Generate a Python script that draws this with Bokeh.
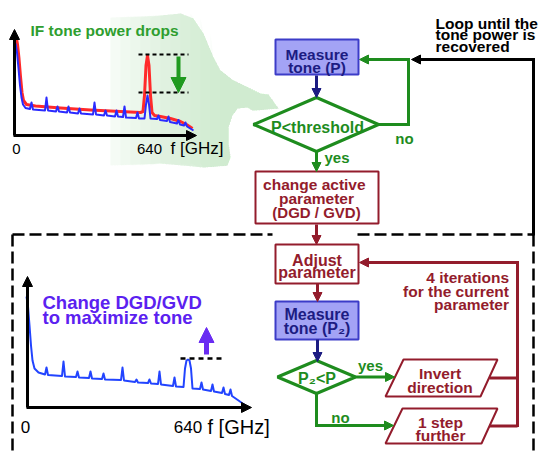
from bokeh.plotting import figure
from bokeh.models import Range1d, Arrow, NormalHead
from bokeh.core.properties import value
from bokeh.embed import file_html
from bokeh.resources import INLINE

# ---------------- data (spectra, in picture units) ----------------
TOP_RED_X = [16, 17, 18.5, 20, 21.5, 23, 26, 35, 60, 90, 120, 140, 142.5, 144, 145.5, 147, 148.5,
             150, 151.5, 154, 160, 170, 180, 186, 192]
TOP_RED_Y = [38, 44, 58, 76, 92, 100, 104, 105.5, 107.5, 109.5, 111, 112, 111, 95, 65, 55, 65,
             95, 112, 115, 116, 118, 121, 124, 128]

TOP_BLUE_X = [15, 16.5, 18, 19.5, 21, 22.5, 25,
              29.5, 31, 32.5, 44.5, 46, 47.5, 55.5, 57, 58.5, 66.5, 68, 69.5, 77.5, 79, 80.5,
              92.5, 94, 95.5, 103.5, 105, 106.5, 114.5, 116, 117.5, 122.5, 124, 125.5,
              135.5, 137, 138.5, 144, 145.5, 147, 148.5, 150,
              156.5, 158, 159.5, 166.5, 168, 169.5, 176.5, 178, 179.5, 183.5, 185, 186.5, 193]
TOP_BLUE_Y = [43, 52, 68, 85, 97, 104, 107.5,
              108.5, 102, 109, 110, 97, 110, 111, 106, 111, 112, 106, 112, 113, 108, 113,
              114, 102, 114, 115, 110, 115, 116, 110, 116, 116.5, 106, 117,
              117.5, 112, 118, 118, 104, 95, 104, 118,
              118.5, 115, 119.5, 120.5, 116, 121.5, 123, 119.5, 124, 125, 122, 126, 130]

BOT_BLUE_X = [26, 27.5, 29, 30.5, 32, 34, 38,
              44.5, 46, 47.5, 61.5, 63, 64.5, 75.5, 77, 78.5, 88.5, 90, 91.5, 101.5, 103, 104.5,
              120.5, 122, 123.5, 134.5, 136, 137.5, 147.5, 149, 150.5, 157.5, 159, 160.5,
              172.5, 174, 175.5, 183, 184.5, 186, 187.5, 189, 190.5, 192,
              199.5, 201, 202.5, 210.5, 212, 213.5, 221.5, 223, 224.5, 228.5, 230, 231.5, 238, 245]
BOT_BLUE_Y = [296, 306, 325, 345, 360, 368, 372,
              374, 367, 374.5, 375.5, 361, 376, 376.5, 371, 377, 377.5, 371, 378, 378.5, 373, 379,
              379.5, 367, 380, 381.5, 379, 382, 382.5, 379, 383, 383.5, 371, 384,
              385.5, 377, 386, 386.5, 368, 360, 359, 360, 368, 388,
              388.5, 382, 389, 390.5, 384, 391, 392.5, 387, 393.5, 394.5, 389, 395.5, 400, 405]

# ---------------- texts ----------------
LOOP_TEXT = ["Loop until the", "tone power is", "recovered"]
BOX1_TEXT = ["Measure", "tone (P)"]
DIAM1_TEXT = "P<threshold"
BOX2_TEXT = ["change  active", "parameter", "(DGD / GVD)"]
BOX3_TEXT = ["Adjust", "parameter"]
BOX4_TEXT = ["Measure", "tone (P\u2082)"]
DIAM2_TEXT = "P\u2082<P"
PAR1_TEXT = ["Invert", "direction"]
PAR2_TEXT = ["1 step", "further"]
ITER_TEXT = ["4 iterations", "for the current", "parameter"]
TOP_TITLE = "IF tone power drops"
BOT_TITLE = ["Change DGD/GVD", "to maximize tone"]
TICK_LABELS = ["0", "640"]
AXIS_LABEL = "f [GHz]"

# ---------------- colours ----------------
GREEN = "#1e8c1e"
LGREEN = "#2f9e2f"
DRED = "#931c2c"
BFILL = "#a3a3f5"
BLINE = "#3c3cc8"
NAVY = "#1c1c82"
PURPLE = "#5b21f0"
PURPLE2 = "#6a2cf2"
FONT = value("Liberation Sans")
DY = -3.5  # baseline correction for the renderer

p = figure(width=540, height=454, x_range=Range1d(0, 540), y_range=Range1d(454, 0),
           output_backend="svg", toolbar_location=None, min_border=0,
           x_axis_location=None, y_axis_location=None)
p.grid.visible = False
p.outline_line_color = None
p.background_fill_color = "white"
p.border_fill_color = "white"


def txt(x, y, s, color, size, bold=True, align="center"):
    p.text(x=[x], y=[y + DY], text=[s], text_color=color, text_font=FONT,
           text_font_size=f"{size}px", text_font_style="bold" if bold else "normal",
           text_align=align, text_baseline="alphabetic")


def arrow(x0, y0, x1, y1, color, width=3, size=9):
    p.add_layout(Arrow(end=NormalHead(size=size, fill_color=color, line_color=color, line_width=1),
                       x_start=x0, y_start=y0, x_end=x1, y_end=y1,
                       line_color=color, line_width=width))


# ---------------- green shaded arrow (gradient faked with thin layers) ----------------
blob_x = [110, 160, 180, 193, 203, 213, 220, 233, 250, 260, 268, 278, 252, 247, 237, 232, 228, 228, 230, 227, 203, 160, 110]
blob_y = [17, 15, 13, 18, 33, 57, 70, 80, 88, 93, 94, 108, 110, 107, 108, 115, 127, 143, 157, 165, 167, 163, 165]
for left in range(100, 230, 10):
    p.patch([max(v, left) for v in blob_x], blob_y, fill_color="#b5ddb5", fill_alpha=0.07, line_color=None)

# ---------------- top inset ----------------
p.line(TOP_RED_X, TOP_RED_Y, line_color="#ff2a2a", line_width=3, line_join="round")
p.line(TOP_BLUE_X, TOP_BLUE_Y, line_color="#2a2aff", line_width=2, line_join="round")
arrow(14, 135, 14, 29, "black", width=3, size=10)
arrow(13, 135, 196, 135, "black", width=3, size=10)
p.multi_line([[138, 188], [138, 188]], [[54, 54], [92, 92]], line_color="black", line_width=2, line_dash="4 3")
arrow(178, 56, 178, 92, "#1f9a1f", width=4, size=15)
txt(30, 33.5, TOP_TITLE, LGREEN, 15.5, align="left")
txt(16, 151.5, TICK_LABELS[0], "black", 15, bold=False)
txt(149, 151.5, TICK_LABELS[1], "black", 15, bold=False)
txt(170, 151.5, AXIS_LABEL, "black", 17, bold=False, align="left")

# ---------------- top flowchart ----------------
p.quad(left=275, right=358, top=39, bottom=74, fill_color=BFILL, line_color=BLINE, line_width=2)
txt(316.5, 57.5, BOX1_TEXT[0], NAVY, 15.5)
txt(316.5, 70.5, BOX1_TEXT[1], NAVY, 15.5)
arrow(316, 75, 316, 97, NAVY, width=3, size=9)
p.patch([253, 316, 378, 316], [124, 97, 124, 151], fill_color="white", line_color=GREEN, line_width=3)
txt(317, 130, DIAM1_TEXT, GREEN, 16)
p.line([378, 408, 408], [124, 124, 59], line_color=GREEN, line_width=3, line_join="miter")
arrow(409.5, 59, 359, 59, GREEN, width=3, size=9)
txt(404, 141.5, "no", GREEN, 15)
arrow(316, 151, 316, 171, GREEN, width=3, size=9)
txt(324, 160.5, "yes", GREEN, 15, align="left")
p.quad(left=255, right=378, top=171, bottom=223, fill_color="white", line_color=DRED, line_width=2)
txt(316, 187.5, BOX2_TEXT[0], DRED, 15.5)
txt(316, 201, BOX2_TEXT[1], DRED, 15.5)
txt(316, 215, BOX2_TEXT[2], DRED, 15)
arrow(316, 224, 316, 244, DRED, width=3, size=9)

# loop line
p.line([533, 533], [235, 59], line_color="black", line_width=3)
arrow(534.5, 59, 411, 59, "black", width=3, size=9)
for i, s in enumerate(LOOP_TEXT):
    txt(435, [26, 37.7, 49.3][i], s, "black", 15.5, align="left")

# dashed box
p.multi_line([[12, 272], [357, 533], [12, 12], [533, 533]],
             [[234, 234], [234, 234], [234, 460], [234, 460]],
             line_color="black", line_width=2.5, line_dash="12 5")

# ---------------- bottom flowchart ----------------
p.quad(left=275, right=358, top=244, bottom=283, fill_color="white", line_color=DRED, line_width=2)
txt(316.5, 263.3, BOX3_TEXT[0], DRED, 16)
txt(316.5, 275.5, BOX3_TEXT[1], DRED, 16)
arrow(317, 283, 317, 301, DRED, width=3, size=9)
p.quad(left=275, right=358, top=301, bottom=339, fill_color=BFILL, line_color=BLINE, line_width=2)
txt(316.5, 317.3, BOX4_TEXT[0], NAVY, 16)
txt(316.5, 331.7, BOX4_TEXT[1], NAVY, 16)
arrow(317, 339, 317, 361, NAVY, width=3, size=9)
p.patch([277, 316, 355, 316], [376.5, 360, 376.5, 393], fill_color="white", line_color=GREEN, line_width=3)
txt(316.5, 381, DIAM2_TEXT, GREEN, 16)
arrow(355, 376.5, 394, 376.5, GREEN, width=3, size=9)
txt(370, 368, "yes", GREEN, 15)
p.line([316, 316, 380], [393, 425, 425], line_color=GREEN, line_width=3, line_join="miter")
arrow(378, 425, 393, 425, GREEN, width=3, size=9)
txt(340, 420, "no", GREEN, 15)

p.patch([403, 497, 480, 385], [359, 359, 396, 396], fill_color="white", line_color=DRED, line_width=2)
txt(439.5, 376.7, PAR1_TEXT[0], DRED, 15.5)
txt(439.5, 390.7, PAR1_TEXT[1], DRED, 15.5)
p.patch([402, 497, 481, 385], [408, 408, 443, 443], fill_color="white", line_color=DRED, line_width=2)
txt(440, 425, PAR2_TEXT[0], DRED, 15.5)
txt(440, 438.3, PAR2_TEXT[1], DRED, 15.5)

p.multi_line([[489, 517], [489, 517]], [[377.5, 377.5], [425.5, 425.5]], line_color=DRED, line_width=3)
p.line([517, 517], [426.5, 262], line_color=DRED, line_width=3)
arrow(518.5, 262, 359, 262, DRED, width=3, size=9)
for i, s in enumerate(ITER_TEXT):
    txt(508.5, [280.7, 294.3, 307.3][i], s, DRED, 15.5, align="right")

# ---------------- bottom inset ----------------
p.line(BOT_BLUE_X, BOT_BLUE_Y, line_color="#2244ff", line_width=2, line_join="round")
arrow(27, 407, 27, 276, "black", width=3, size=10)
arrow(26, 407, 251, 407, "black", width=3, size=10)
p.line([180, 222], [358, 358], line_color="black", line_width=2.5, line_dash="5 4")
arrow(206, 354, 206, 327, PURPLE2, width=5, size=15)
txt(42, 305, BOT_TITLE[0], PURPLE, 18.5, align="left")
txt(42, 320.7, BOT_TITLE[1], PURPLE, 18.5, align="left")
txt(25, 430, TICK_LABELS[0], "black", 17, bold=False)
txt(187.5, 430, TICK_LABELS[1], "black", 17, bold=False)
txt(207, 430, AXIS_LABEL, "black", 20, bold=False, align="left")

open("out.html", "w").write(file_html(p, INLINE))
